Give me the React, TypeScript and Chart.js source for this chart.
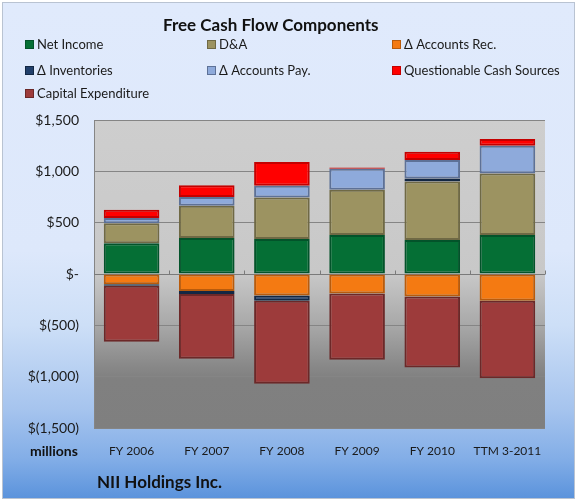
import React, { useEffect, useRef } from "react";
import { Chart, registerables } from "chart.js";

Chart.register(...registerables);

const categories = ["FY 2006", "FY 2007", "FY 2008", "FY 2009", "FY 2010", "TTM 3-2011"];
const netIncome = [300, 350, 340, 380, 330, 380];
const depAmort = [195, 315, 405, 440, 570, 600];
const accountsRec = [-100, -165, -210, -190, -220, -260];
const inventories = [-15, -30, -50, 0, 30, 0];
const accountsPay = [50, 85, 115, 205, 180, 270];
const questionable = [80, 115, 230, 13, 80, 65];
const capex = [-545, -630, -810, -645, -690, -755];
const yTickValues = [1500, 1000, 500, 0, -500, -1000, -1500];

const FONT = "Lato, 'Open Sans', sans-serif";

const series = [
  { label: "Net Income", data: netIncome, color: "#056f35", border: "#03532a" },
  { label: "D&A", data: depAmort, color: "#9c9361", border: "#6f6945" },
  { label: "\u0394 Accounts Rec.", data: accountsRec, color: "#f47a12", border: "#b85b0c" },
  { label: "\u0394 Inventories", data: inventories, color: "#213f6b", border: "#132743" },
  { label: "\u0394 Accounts Pay.", data: accountsPay, color: "#8eaadb", border: "#5d7197" },
  { label: "Questionable Cash Sources", data: questionable, color: "#ff0000", border: "#c40000" },
  { label: "Capital Expenditure", data: capex, color: "#9d3b3b", border: "#6c2828" },
];

const legendCols = [25, 207, 392];
const legendRows = [44, 70, 93];

function fmt(v: number): string {
  if (v === 0) return "$-";
  const s = Math.abs(v).toLocaleString("en-US");
  return v < 0 ? `$(${s})` : `$${s}`;
}

const plotBg = {
  id: "plotBg",
  beforeDraw(chart: any) {
    const { ctx, chartArea } = chart;
    const { left, top, right, bottom } = chartArea;
    const g = ctx.createLinearGradient(0, top, 0, bottom);
    g.addColorStop(0, "#cecece");
    g.addColorStop(0.5, "#c8c8c8");
    g.addColorStop(0.667, "#a8a8a8");
    g.addColorStop(0.8, "#888888");
    g.addColorStop(0.84, "#808080");
    g.addColorStop(1, "#7f7f7f");
    ctx.save();
    ctx.fillStyle = g;
    ctx.fillRect(left, top, right - left, bottom - top);
    ctx.restore();
  },
  beforeDatasetsDraw(chart: any) {
    const { ctx, chartArea, scales } = chart;
    const y0 = Math.round(scales.y.getPixelForValue(0)) + 0.5;
    const n = categories.length;
    const step = (chartArea.right - chartArea.left) / n;
    ctx.save();
    ctx.strokeStyle = "#7a7a7a";
    ctx.lineWidth = 1;
    ctx.beginPath();
    ctx.moveTo(chartArea.left, y0);
    ctx.lineTo(chartArea.right, y0);
    for (let i = 0; i <= n; i++) {
      const x = Math.round(chartArea.left + i * step) + 0.5;
      ctx.moveTo(x, y0);
      ctx.lineTo(x, y0 - 4);
    }
    ctx.stroke();
    ctx.restore();
  },
};

function App() {
  const ref = useRef<HTMLCanvasElement | null>(null);

  useEffect(() => {
    if (!ref.current) return;
    const chart = new Chart(ref.current, {
      type: "bar",
      data: {
        labels: categories,
        datasets: series.map((s) => ({
          label: s.label,
          data: s.data,
          backgroundColor: s.color,
          borderColor: s.border,
          borderWidth: 2,
          borderSkipped: false,
          barPercentage: 0.74,
          categoryPercentage: 1,
          stack: "s",
        })),
      },
      options: {
        animation: false,
        responsive: false,
        events: [],
        layout: { padding: { top: 120, right: 33, left: 0, bottom: 0 } },
        plugins: {
          legend: { display: false },
          title: { display: false },
          tooltip: { enabled: false },
        },
        scales: {
          x: {
            stacked: true,
            grid: { display: false },
            border: { display: false },
            ticks: {
              font: { family: FONT, size: 12 },
              color: "#1a1a1a",
              padding: 8,
              maxRotation: 0,
              autoSkip: false,
            },
            afterFit: (s: any) => {
              s.height = 74;
            },
          },
          y: {
            stacked: true,
            min: -1500,
            max: 1500,
            afterBuildTicks: (s: any) => {
              s.ticks = yTickValues.map((v) => ({ value: v }));
            },
            grid: { color: "#858585", lineWidth: 1, drawTicks: false },
            border: { display: true, color: "#858585" },
            ticks: {
              font: { family: FONT, size: 14 },
              color: "#1a1a1a",
              padding: 15,
              callback: (v: any) => fmt(Number(v)),
            },
            afterFit: (s: any) => {
              s.width = 94;
            },
          },
        },
      },
      plugins: [plotBg],
    });
    return () => chart.destroy();
  }, []);

  return (
    <div style={{ position: "absolute", left: 0, top: 0, width: 578, height: 502, background: "#ffffff", overflow: "hidden", fontFamily: FONT }}>
      <div
        style={{
          position: "absolute",
          left: 2,
          top: 2,
          width: 573,
          height: 497,
          boxSizing: "border-box",
          border: "1px solid #b9c3d2",
          background:
            "linear-gradient(to bottom, #e0eafc 0%, #dde8fb 50%, #cddff7 65%, #a6c4ee 82%, #83aee7 92%, #5b93dc 100%)",
        }}
      />
      <canvas ref={ref} width={578} height={502} style={{ position: "absolute", left: 0, top: 0, width: 578, height: 502 }} />
      <div style={{ position: "absolute", left: 163, top: 14, fontSize: 17, fontWeight: 700, lineHeight: "22px", color: "#111", whiteSpace: "nowrap" }}>
        Free Cash Flow Components
      </div>
      {series.map((s, i) => {
        const col = legendCols[i % 3];
        const row = legendRows[Math.floor(i / 3)];
        return (
          <div key={s.label} style={{ position: "absolute", left: col, top: row - 9, height: 18, display: "flex", alignItems: "center", whiteSpace: "nowrap" }}>
            <span
              style={{
                display: "inline-block",
                width: 7,
                height: 7,
                background: s.color,
                border: `1px solid ${s.border}`,
                marginRight: 3,
              }}
            />
            <span style={{ fontSize: 13, color: "#1a1a1a", lineHeight: "18px" }}>{s.label}</span>
          </div>
        );
      })}
      <div style={{ position: "absolute", left: 30, top: 441, fontSize: 14, fontWeight: 700, lineHeight: "20px", color: "#111" }}>millions</div>
      <div style={{ position: "absolute", left: 97, top: 470, fontSize: 17, fontWeight: 700, lineHeight: "24px", color: "#111", whiteSpace: "nowrap" }}>
        NII Holdings Inc.
      </div>
    </div>
  );
}

export default App;
